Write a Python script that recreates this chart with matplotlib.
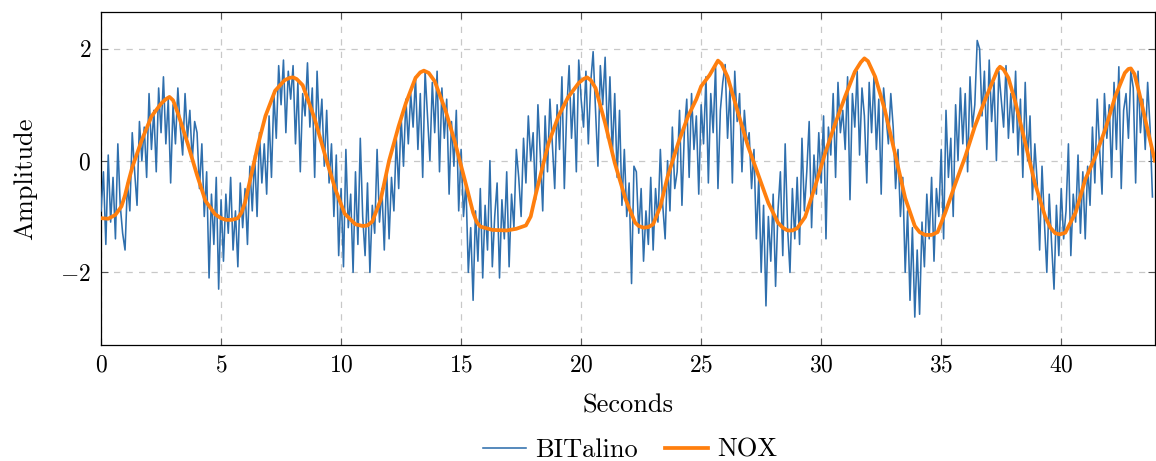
import numpy as np
import matplotlib
matplotlib.use("Agg")
import matplotlib.pyplot as plt

# BITalino samples, 0.1 s apart, starting at t = 0
bitalino = [
    -0.9, -0.2, -1.5, 0.1, -1.1, -0.3, -1.4, 0.3, -0.8, -1.3,
    -1.6, -0.4, -0.9, 0.5, -0.2, -0.8, 0.7, 0.0, 0.6, -0.3,
    1.2, 0.2, 0.9, -0.2, 1.3, 0.5, 1.5, 0.3, 1.1, -0.4,
    1.0, 0.3, 1.3, 0.6, 0.1, 1.2, 0.4, 0.9, 0.0, 0.7,
    0.5, -0.5, 0.3, -1.0, -0.2, -2.1, -0.6, -1.5, -0.3, -2.3,
    -0.7, -1.8, -0.6, -1.3, -0.3, -1.6, -0.9, -1.9, -0.4, -1.2,
    -0.5, -1.5, -0.1, -0.9, 0.1, -1.0, 0.5, -0.4, 0.3, -0.6,
    0.8, -0.3, 1.2, 0.4, 1.7, 1.0, 1.8, 0.5, 1.6, 1.1,
    1.7, 0.3, 1.4, -0.2, 1.2, 0.8, 1.75, 0.6, 1.3, -0.3,
    1.6, 0.5, 1.1, -0.1, 0.9, -0.4, 0.3, -1.0, 0.1, -1.7,
    -0.5, -1.9, 0.2, -1.2, -0.6, -2.0, -0.2, -1.5, 0.4, -1.0,
    -1.7, -0.4, -2.0, -0.8, -1.3, 0.2, -1.1, -0.5, -1.6, -0.2,
    -1.4, -0.3, -0.9, 0.4, -0.5, 0.8, -0.1, 1.1, 0.3, 1.2,
    0.6, 1.5, 0.2, 1.2, -0.3, 1.6, 0.8, 0.0, 1.4, 0.5,
    1.6, -0.2, 1.3, 0.4, 1.1, -0.6, 0.7, -0.1, 0.9, -0.9,
    0.2, -1.0, -0.4, -2.0, -1.2, -2.5, -0.9, -1.8, -0.5, -2.1,
    -0.8, -1.6, 0.0, -1.9, -1.0, -0.4, -2.1, -0.7, -1.4, -0.2,
    -1.9, -0.6, -1.2, 0.2, -0.3, -1.0, 0.4, -0.4, 0.8, 0.0,
    0.5, -0.7, 1.0, 0.1, -0.9, 0.8, -0.2, 1.1, 0.3, -0.5,
    1.0, 0.2, 1.5, -0.5, 0.9, 1.7, 0.4, 1.2, -0.2, 1.8,
    1.1, 0.6, 1.6, 0.3, 1.4, 1.95, 0.9, -0.1, 1.7, 1.0,
    1.85, 0.4, 1.5, 0.1, 1.2, -0.3, 0.9, -0.8, 0.2, -1.0,
    -0.4, -2.2, -0.1, -0.2, -1.3, -0.5, -1.8, -0.9, -1.5, -0.3,
    -1.6, -0.5, -1.1, 0.2, -0.8, -1.4, 0.0, -0.9, 0.6, -0.5,
    -0.2, 0.9, -0.8, 0.5, 1.1, -0.3, 1.2, 0.2, 0.8, -0.6,
    1.0, 0.3, 1.5, -0.4, 1.2, 0.5, 1.7, -0.5, 0.9, 1.4,
    1.72, 0.4, 1.3, -0.4, 1.6, 0.7, 1.2, -0.2, 0.9, 0.3,
    0.5, -0.5, 0.2, -1.4, -0.3, -2.0, -0.8, -2.6, -1.0, -1.8,
    -0.6, -2.25, -0.9, -0.2, -1.7, 0.3, -1.2, -2.0, -0.5, -1.4,
    -0.3, -1.5, 0.4, -0.9, -0.2, 0.7, -1.2, 0.1, -0.6, 0.5,
    -0.4, 0.8, -1.4, 0.6, 0.1, 1.2, -0.3, 1.4, 0.5, 0.9,
    0.2, 1.5, -0.7, 1.2, 0.6, 1.6, 0.1, 1.3, 0.8, -0.4,
    1.4, 0.5, 1.5, 0.2, 1.1, -0.6, 1.3, 0.8, 0.3, 1.2,
    0.6, -0.5, 0.2, -1.0, -0.3, -2.0, -0.9, -2.5, -1.2, -2.8,
    -1.6, -2.75, -1.1, -1.9, -0.6, -1.4, -0.3, -1.8, -0.5, -1.0,
    0.2, -1.4, 0.9, -0.3, 0.4, -1.0, 1.0, 0.0, 1.3, 0.3,
    1.2, -0.2, 1.5, 0.6, 1.0, 2.15, 2.0, 0.8, 1.6, 0.2,
    1.8, 0.7, 1.4, 0.0, 1.6, 1.1, 0.6, 1.7, 0.4, 1.2,
    0.5, 1.6, 0.1, 1.1, -0.3, 1.4, 0.0, 0.8, -0.7, 0.3,
    -0.4, -1.6, -0.1, -1.1, -2.0, -0.6, -1.5, -2.3, -0.8, -1.7,
    -0.5, -1.4, -0.9, 0.3, -1.7, -0.6, -1.1, 0.1, -1.3, -0.2,
    -1.4, -0.1, -0.8, 0.6, -0.4, 1.1, 0.2, -0.6, 1.2, 0.4,
    1.0, -0.3, 1.4, 0.2, 1.68, -0.5, 0.9, 1.2, 0.4, 1.6,
    1.3, -0.4, 1.6, 0.5, 1.1, 0.2, 1.4, 0.6, -0.65,
]
bitalino_dt = 0.1

# NOX readings (time in s, amplitude)
nox_t = [0, 0.3, 0.6, 0.85, 1.0, 1.15, 1.3, 1.7, 2.1, 2.5, 2.7, 2.85, 3.0, 3.2,
         3.6, 4.0, 4.35, 4.75, 5.0, 5.2, 5.45, 5.7, 5.85, 6.0, 6.3, 6.55, 6.85,
         7.25, 7.65, 7.85, 8.0, 8.15, 8.4, 8.9, 9.35, 9.75, 10.15, 10.6, 10.9,
         11.1, 11.3, 11.65, 12.0, 12.4, 12.7, 13.1, 13.3, 13.45, 13.65, 13.9,
         14.35, 14.75, 15.15, 15.5, 15.65, 15.8, 16.3, 16.9, 17.3, 17.7, 17.9,
         18.1, 18.4, 18.65, 19.05, 19.45, 19.9, 20.1, 20.25, 20.4, 20.6, 21.0,
         21.4, 21.85, 22.25, 22.4, 22.6, 22.8, 23.0, 23.3, 23.6, 24.05, 24.45,
         24.8, 25.0, 25.35, 25.55, 25.7, 25.85, 26.1, 26.5, 26.95, 27.4, 27.8,
         28.2, 28.4, 28.6, 28.8, 29.0, 29.33, 29.75, 30.17, 30.6, 31.0, 31.4,
         31.65, 31.8, 31.95, 32.25, 32.65, 33.1, 33.5, 33.9, 34.1, 34.33, 34.6,
         34.85, 35.17, 35.6, 36.0, 36.4, 36.83, 37.25, 37.35, 37.45, 37.6, 37.8,
         38.1, 38.5, 38.9, 39.33, 39.55, 39.75, 39.95, 40.17, 40.6, 41.0, 41.4,
         41.85, 42.25, 42.65, 42.8, 42.9, 43.05, 43.25, 43.6, 43.9]
nox_v = [-1.03, -1.04, -0.97, -0.82, -0.62, -0.36, -0.12, 0.37, 0.79, 1.02,
         1.1, 1.14, 1.08, 0.85, 0.32, -0.26, -0.72, -0.96, -1.03, -1.06, -1.06,
         -1.03, -0.93, -0.75, -0.18, 0.3, 0.8, 1.25, 1.44, 1.48, 1.49, 1.46,
         1.35, 0.75, 0.07, -0.5, -0.95, -1.14, -1.17, -1.16, -1.09, -0.7, 0.0,
         0.62, 1.03, 1.48, 1.58, 1.61, 1.57, 1.42, 0.9, 0.32, -0.34, -0.93,
         -1.1, -1.18, -1.24, -1.25, -1.22, -1.16, -1.0, -0.62, -0.1, 0.32,
         0.79, 1.13, 1.39, 1.46, 1.49, 1.44, 1.3, 0.67, -0.04, -0.69, -1.11,
         -1.17, -1.2, -1.19, -1.14, -0.82, -0.29, 0.32, 0.79, 1.1, 1.33, 1.53,
         1.68, 1.79, 1.73, 1.5, 0.91, 0.26, -0.28, -0.76, -1.11, -1.2, -1.25,
         -1.25, -1.21, -1.01, -0.46, 0.14, 0.68, 1.15, 1.59, 1.76, 1.83, 1.78,
         1.5, 0.91, 0.08, -0.67, -1.17, -1.28, -1.33, -1.33, -1.28, -0.93, -0.4,
         0.07, 0.61, 1.09, 1.53, 1.63, 1.68, 1.63, 1.48, 1.03, 0.32, -0.4, -1.0,
         -1.2, -1.3, -1.32, -1.29, -0.93, -0.34, 0.05, 0.58, 1.15, 1.57, 1.64,
         1.65, 1.55, 1.21, 0.55, 0.0]

x_ticks = [0, 5, 10, 15, 20, 25, 30, 35, 40]
y_ticks = [-2, 0, 2]

plt.rcParams['font.family'] = ['cmr10', 'DejaVu Serif']
plt.rcParams['mathtext.fontset'] = 'cm'
plt.rcParams['axes.formatter.use_mathtext'] = True
plt.rcParams['axes.unicode_minus'] = True

fig = plt.figure(figsize=(11.56, 4.61), dpi=100)
ax = fig.add_axes([0.0874, 0.2516, 0.9116, 0.7224])

t_b = np.arange(len(bitalino)) * bitalino_dt
ax.plot(t_b, bitalino, color='#2f6fad', lw=1.15, label='BITalino', zorder=3)
ax.plot(nox_t, nox_v, color='#ff7f0e', lw=2.7, label='NOX', zorder=4,
        solid_joinstyle='round')

ax.set_xlim(0, 43.9)
ax.set_ylim(-3.3, 2.66)
ax.set_xticks(x_ticks)
ax.set_yticks(y_ticks)
ax.grid(True, color='#c8c8c8', linestyle=(0, (5, 5)), linewidth=0.9)
ax.set_axisbelow(True)
ax.tick_params(direction='in', length=5, width=0.8, color='#555555',
               top=True, right=True, labelsize=17, pad=7)
for s in ax.spines.values():
    s.set_linewidth(0.9)
    s.set_color('black')

ax.set_xlabel('Seconds', fontsize=19, labelpad=12)
ax.set_ylabel('Amplitude', fontsize=19, labelpad=17)

fig.legend(loc='center', bbox_to_anchor=(0.545, 0.024), ncol=2,
           frameon=False, fontsize=19, handlelength=1.65, columnspacing=1.0,
           handletextpad=0.35, borderaxespad=0, borderpad=0)

fig.savefig('out.png', dpi=100)
